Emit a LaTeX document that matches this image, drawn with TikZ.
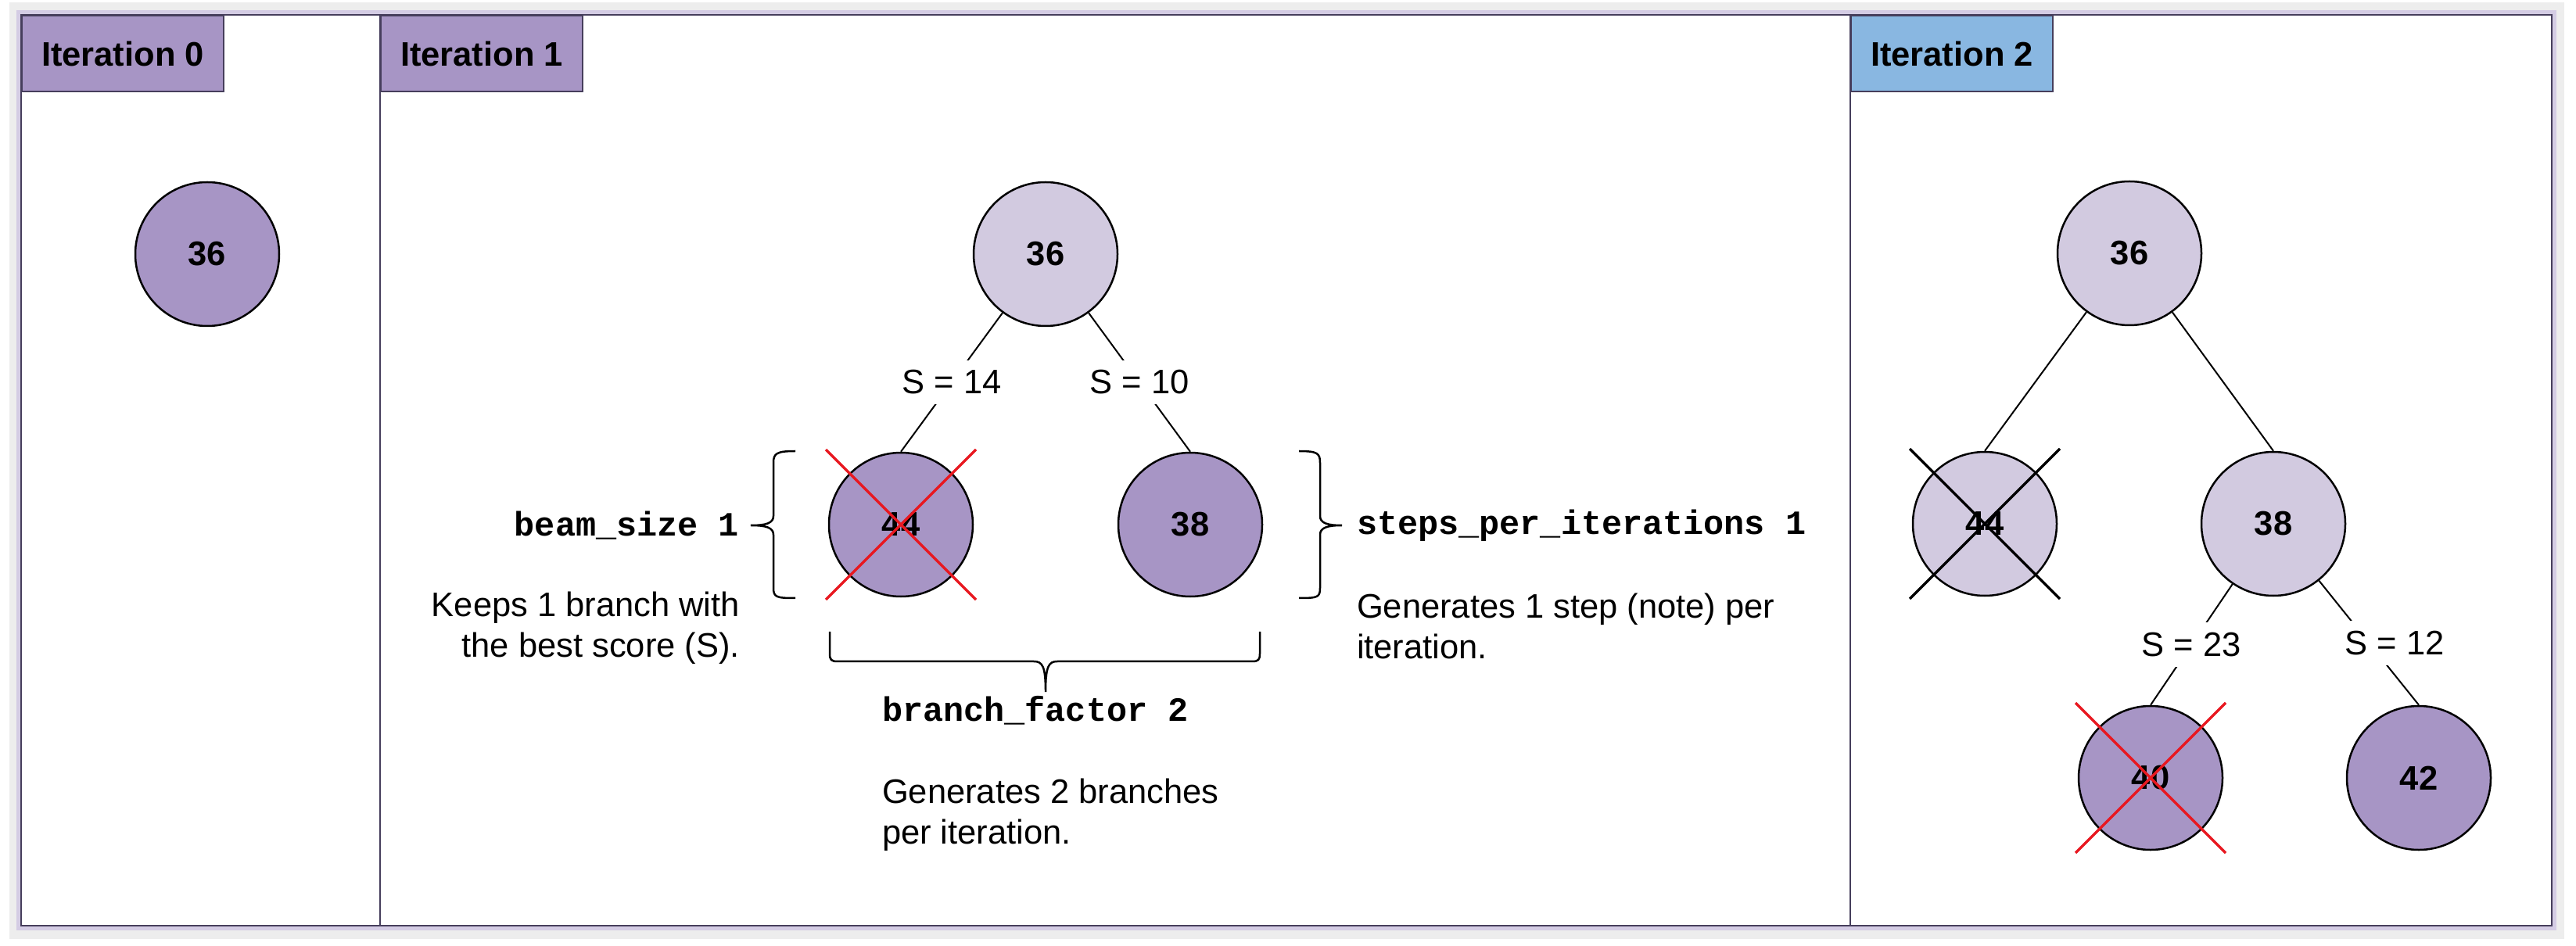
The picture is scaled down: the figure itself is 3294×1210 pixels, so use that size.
\documentclass[tikz,border=0pt]{standalone}
\usepackage{fontspec}
\setmainfont{Liberation Sans}
\setmonofont{Liberation Mono}
\usetikzlibrary{positioning}

\definecolor{beamdark}{RGB}{167,149,197}
\definecolor{beamlight}{RGB}{210,202,224}
\definecolor{iterblue}{RGB}{137,183,225}
\definecolor{framecol}{RGB}{70,62,92}
\definecolor{glowcol}{RGB}{212,204,228}
\definecolor{crossred}{RGB}{232,24,32}

\begin{document}
\begin{tikzpicture}[
		x=0.2pt, y=0.2pt,
		every node/.style={font=\fontsize{8.7}{10.4}\selectfont},
		state/.style={circle, draw, line width=0.5pt, minimum size=36.8pt, inner sep=0pt, font=\fontsize{8.7}{10.4}\selectfont\bfseries},
		picked/.style={state, fill=beamdark},
		visited/.style={state, fill=beamlight},
		title/.style={draw=framecol, line width=0.4pt, fill=beamdark, minimum width=51.6pt, minimum height=19.4pt, anchor=north west, inner sep=0pt, font=\fontsize{8.7}{10.4}\selectfont\bfseries},
		edge/.style={line width=0.4pt},
		score/.style={midway, fill=white, inner sep=2.6pt},
		param/.style={font=\fontsize{8.7}{10.4}\selectfont\ttfamily\bfseries, inner sep=0pt},
		note/.style={inner sep=0pt},
		brace/.style={line width=0.5pt},
		cross/.style={line width=0.65pt},
		divider/.style={draw=framecol, line width=0.4pt},
		node distance=69.2pt,
	]

	\useasboundingbox (0,0) rectangle (3294,-1210);

	% frame with its soft border
	\draw[line width=3.4pt, black!7] (20,-12) rectangle (3270,-1192);
	\draw[line width=2.4pt, glowcol] (27,-19) rectangle (3263,-1184);
	\fill[white] (27,-19) rectangle (3263,-1184);
	\draw[line width=0.4pt, framecol] (27,-19) rectangle (3263,-1184);

	\node[title] (t0) at (27,-19) {Iteration 0};
	\node[title] (t1) at (486,-19) {Iteration 1};
	\node[title, fill=iterblue] (t2) at (2366,-19) {Iteration 2};
	\draw[divider] (t1.north west) -- ++(0,-1165);
	\draw[divider] (t2.north west) -- ++(0,-1165);

	% iteration 0
	\node[picked] (i0) at (265,-325) {36};

	% iteration 1
	\node[visited] (r1) at (1337,-325) {36};
	\node[picked, below of=r1, xshift=-37pt] (a44) {44};
	\node[picked, below of=r1, xshift=37pt] (a38) {38};
	\draw[edge] (r1) -- node[score] {S = 14} (a44.north);
	\draw[edge] (r1) -- node[score] {S = 10} (a38.north);

	\draw[brace] (1017,-577) .. controls (993,-577) and (989,-580) .. (989,-592) -- (989,-660)
		.. controls (989,-669) and (980,-672) .. (960,-672) coordinate (lb)
		.. controls (980,-672) and (989,-675) .. (989,-684) -- (989,-752)
		.. controls (989,-764) and (993,-765) .. (1017,-765);
	\node[param, left=2.8pt of lb] (bsize) {beam\_size 1};
	\node[note, align=right, anchor=north east] (keeps) at (947,-756) {Keeps 1 branch with\\the best score (S).};

	\draw[brace] (1661,-577) .. controls (1685,-577) and (1688,-580) .. (1688,-592) -- (1688,-660)
		.. controls (1688,-669) and (1697,-672) .. (1716,-672) coordinate (rb)
		.. controls (1697,-672) and (1688,-675) .. (1688,-684) -- (1688,-752)
		.. controls (1688,-764) and (1685,-765) .. (1661,-765);
	\node[param, right=3.6pt of rb] (steps) {steps\_per\_iterations 1};
	\node[note, align=left, anchor=north west] (gen1) at (1734,-758) {Generates 1 step (note) per\\iteration.};

	\draw[brace] (1061,-808) -- (1061,-836) .. controls (1061,-844) and (1063,-846) .. (1071,-846) -- (1322,-846)
		.. controls (1333,-846) and (1337,-852) .. (1337,-885) coordinate (bb)
		.. controls (1337,-852) and (1341,-846) .. (1352,-846) -- (1601,-846)
		.. controls (1609,-846) and (1611,-844) .. (1611,-836) -- (1611,-808);
	\node[param, anchor=base west] (bfac) at (1127,-922) {branch\_factor 2};
	\node[note, align=left, anchor=north west] (gen2) at (1127,-995) {Generates 2 branches\\per iteration.};

	% iteration 2
	\node[visited] (r2) at (2723,-324) {36};
	\node[visited, below of=r2, xshift=-37pt] (b44) {44};
	\node[visited, below of=r2, xshift=36.8pt] (b38) {38};
	\node[picked, node distance=65pt, below of=b38, xshift=-31.4pt] (b40) {40};
	\node[picked, node distance=65pt, below of=b38, xshift=37.2pt] (b42) {42};
	\draw[edge] (r2) -- (b44.north);
	\draw[edge] (r2) -- (b38.north);
	\draw[edge] (b38) -- node[score] {S = 23} (b40.north);
	\draw[edge] (b38) -- node[score, xshift=6.6pt] {S = 12} (b42.north);

	% pruned branches
	\foreach \n/\c in {a44/crossred, b40/crossred, b44/black}
		\draw[cross, color=\c] ([shift={(-96,96)}]\n.center) -- ([shift={(96,-96)}]\n.center)
			([shift={(-96,-96)}]\n.center) -- ([shift={(96,96)}]\n.center);

\end{tikzpicture}
\end{document}
